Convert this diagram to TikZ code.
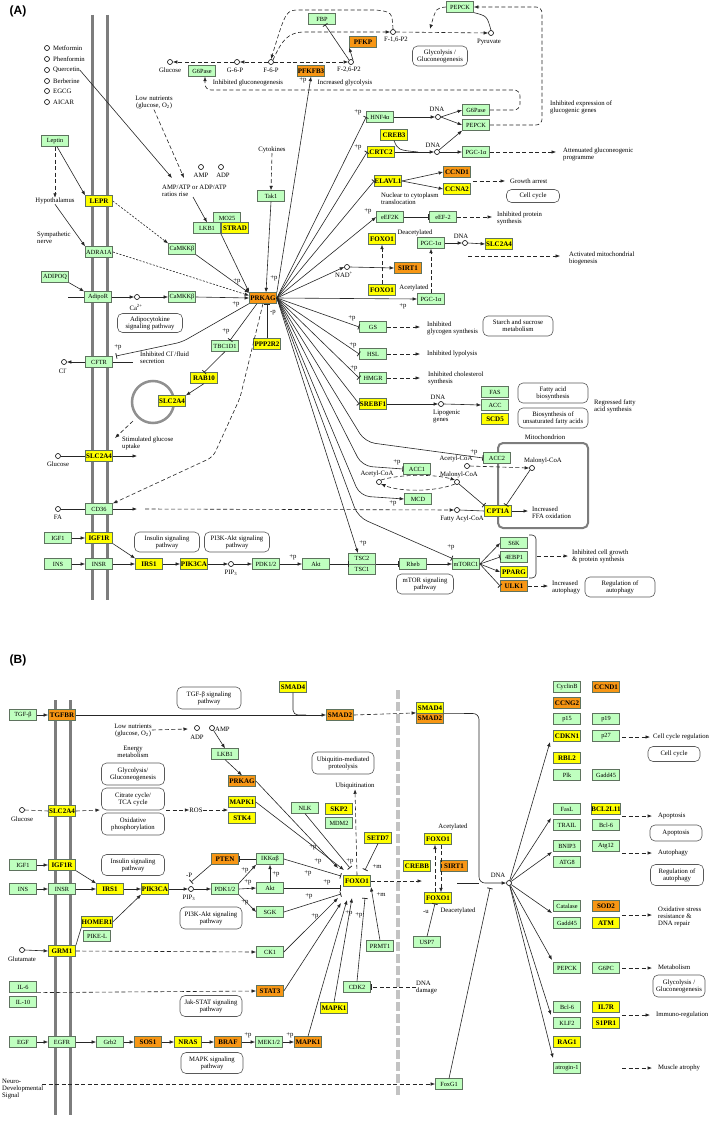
\documentclass[tikz,border=0pt]{standalone}
\usepackage{fontspec}
\setmainfont{Liberation Serif}
\newfontfamily\labfont{Liberation Sans}
\usetikzlibrary{arrows.meta}
\definecolor{kg}{RGB}{191,255,191}
\definecolor{ky}{RGB}{255,255,0}
\definecolor{ko}{RGB}{247,150,20}
\definecolor{kb}{RGB}{95,115,95}
\definecolor{memc}{RGB}{125,125,125}
\definecolor{divc}{RGB}{195,195,195}
\newcommand\plab[3]{\node[txt] (#1) at (#2) {#3};}
\tikzset{
 knode/.style={draw=kb,line width=0.7pt,minimum width=27pt,minimum height=10.5pt,inner sep=0pt},
 gnode/.style={knode,fill=kg,font=\fontsize{6.3}{6.3}\selectfont},
 ynode/.style={knode,fill=ky,font=\fontsize{7}{7}\selectfont\bfseries},
 onode/.style={knode,fill=ko,font=\fontsize{7}{7}\selectfont\bfseries},
 met/.style={circle,draw=black,fill=white,minimum size=5pt,inner sep=0pt,line width=0.6pt},
 txt/.style={font=\fontsize{6.7}{7}\selectfont,inner sep=0pt,align=center},
 txl/.style={font=\fontsize{6.7}{7}\selectfont,inner sep=0pt,align=left,anchor=west},
 pw/.style={draw=black!65,rounded corners=5pt,line width=0.6pt,font=\fontsize{6.7}{7}\selectfont,align=center,inner sep=1pt},
 ln/.style={line width=0.6pt,draw=black!85},
 arr/.style={ln,-{Latex[length=4.5pt,width=3.5pt]}},
 inh/.style={ln,-{Bar[width=5.5pt,line width=0.8pt]}},
 dsh/.style={dash pattern=on 4pt off 2.5pt},
 fdsh/.style={dash pattern=on 2pt off 1.5pt},
 darr/.style={arr,dsh},
 dln/.style={ln,dsh},
 dinh/.style={inh,dsh},
 fdarr/.style={arr,fdsh},
 memb/.style={draw=memc,line width=3pt},
 lab/.style={font=\labfont\bfseries\fontsize{12}{12}\selectfont,inner sep=0pt},
}
\begin{document}
\begin{tikzpicture}[x=1pt,y=-1pt]
\useasboundingbox (0,0) rectangle (709,1123);
\fill[white] (0,0) rectangle (709,1123);

% ================= PANEL A =================
\node[lab] (labA) at (18,11) {(A)};
\draw[memb] (92,15) -- (92,600);
\draw[memb] (107,15) -- (107,600);
\draw[draw=memc!85,line width=2.5pt] (153,402) circle [radius=21pt];
\draw[draw=memc,line width=2pt,rounded corners=5pt] (498,443) rectangle (588,528);

% drugs
\node[met] (dr1) at (47,48) {}; \node[txl] (dr1l) at (53,48) {Metformin};
\node[met] (dr2) at (47,59) {}; \node[txl] (dr2l) at (53,59) {Phenformin};
\node[met] (dr3) at (47,70) {}; \node[txl] (dr3l) at (53,70) {Quercetin};
\node[met] (dr4) at (47,81) {}; \node[txl] (dr4l) at (53,81) {Berberine};
\node[met] (dr5) at (47,91) {}; \node[txl] (dr5l) at (53,91) {EGCG};
\node[met] (dr6) at (47,102) {}; \node[txl] (dr6l) at (53,102) {AICAR};

\node[txt] (lowA) at (154,103) {Low nutrients\\(glucose, O\textsubscript{2})};
\node[met] (ampA) at (201,167) {}; \node[txt] (ampAl) at (201,175) {AMP};
\node[met] (adpA) at (221,167) {}; \node[txt] (adpAl) at (223,175) {ADP};
\node[txl] (ratio) at (162,191) {AMP/ATP or ADP/ATP\\ratios rise};

% top glycolysis
\node[met] (glcA) at (170,62) {}; \node[txt] (glcAl) at (170,70) {Glucose};
\node[gnode] (g6pa) at (202,71) {G6Pase};
\node[met] (g6p) at (237,62) {}; \node[txt] (g6pl) at (235,70) {G-6-P};
\node[met] (f6p) at (271,62) {}; \node[txt] (f6pl) at (271,70) {F-6-P};
\node[met] (f26) at (351,62) {}; \node[txt] (f26l) at (349,70) {F-2,6-P2};
\node[met] (f16) at (393,32) {}; \node[txt] (f16l) at (396,40) {F-1,6-P2};
\node[met] (pyr) at (491,33) {}; \node[txt] (pyrl) at (489,42) {Pyruvate};
\node[gnode] (fbp) at (322,19) {FBP};
\node[onode] (pfkp) at (363,42) {PFKP};
\node[onode] (pfkfb) at (311,71) {PFKFB3};
\node[gnode] (pepck1) at (460,7) {PEPCK};
\node[pw,minimum width=55pt,minimum height=20pt] (glyA) at (440,56) {Glycolysis /\\Gluconeogenesis};
\node[txt] (inhg) at (248,83) {Inhibited gluconeogenesis};
\node[txt] (incg) at (345,83) {Increased glycolysis};
\node[txl] (inhexp) at (550,107) {Inhibited expression of\\glucogenic genes};

% left receptors
\node[gnode] (leptin) at (55,141) {Leptin};
\node[txt] (hypo) at (55,201) {Hypothalamus};
\node[ynode] (lepr) at (99,201) {LEPR};
\node[txl] (symp) at (37,238) {Sympathetic\\nerve};
\node[gnode] (adra) at (99,252) {ADRA1A};
\node[gnode] (camk1) at (182,249) {CaMKKβ};
\node[gnode] (adipoq) at (55,277) {ADIPOQ};
\node[gnode] (adipor) at (98,297) {AdipoR};
\node[met] (ca) at (137,297) {}; \node[txt] (cal) at (136,307) {Ca\textsuperscript{2+}};
\node[gnode] (camk2) at (182,297) {CaMKKβ};
\node[pw,minimum width=65pt,minimum height=19pt] (adipo) at (150,323) {Adipocytokine\\signaling pathway};
\node[gnode] (cftr) at (99,362) {CFTR};
\node[met] (cl) at (64,362) {}; \node[txt] (cll) at (63,371) {Cl\textsuperscript{-}};
\node[txl] (clsec) at (140,358) {Inhibited Cl\textsuperscript{-}/fluid\\secretion};
\node[gnode] (tbc) at (225,346) {TBC1D1};
\node[ynode] (rab10) at (204,378) {RAB10};
\node[ynode] (slcin) at (172,401) {SLC2A4};
\node[txl] (stim) at (122,443) {Stimulated glucose\\uptake};
\node[ynode] (slcm) at (99,456) {SLC2A4};
\node[met] (glcA2) at (58,456) {}; \node[txt] (glcA2l) at (58,464) {Glucose};
\node[gnode] (cd36) at (99,509) {CD36};
\node[met] (fa) at (58,509) {}; \node[txt] (fal) at (58,517) {FA};

% center
\node[txt] (cyto) at (272,150) {Cytokines};
\node[gnode] (tak1) at (271,196) {Tak1};
\node[gnode] (mo25) at (227,218) {MO25};
\node[gnode] (lkb1) at (207,228) {LKB1};
\node[ynode] (strad) at (235,228) {STRAD};
\node[onode] (prkag) at (263,298) {PRKAG};
\node[ynode] (ppp) at (267,344) {PPP2R2};

% right
\node[gnode] (hnf) at (380,117) {HNF4α};
\node[met] (dna1) at (438,117) {}; \node[txt] (dna1l) at (437,109) {DNA};
\node[gnode] (g6pb) at (476,110) {G6Pase};
\node[gnode] (pepckb) at (476,125) {PEPCK};
\node[ynode] (creb) at (394,135) {CREB3};
\node[ynode] (crtc2) at (381,152) {CRTC2};
\node[met] (dna2) at (437,152) {}; \node[txt] (dna2l) at (433,145) {DNA};
\node[gnode] (pgc1) at (476,152) {PGC-1α};
\node[txl] (atten) at (563,154) {Attenuated gluconeogenic\\programme};
\node[ynode] (elavl) at (388,181) {ELAVL1};
\node[onode] (ccnd1A) at (457,172) {CCND1};
\node[ynode] (ccna2) at (457,189) {CCNA2};
\node[txl] (garr) at (510,181) {Growth arrest};
\node[pw,minimum width=53pt,minimum height=13pt] (ccA) at (533,196) {Cell cycle};
\node[txl] (nuc) at (381,199) {Nuclear to cytoplasm\\translocation};
\node[gnode] (eef2k) at (390,217) {eEF2K};
\node[gnode] (eef2) at (443,217) {eEF-2};
\node[txl] (inhps) at (497,218) {Inhibited protein\\synthesis};
\node[ynode] (foxoA1) at (382,239) {FOXO1};
\node[txt] (deac) at (415,233) {Deacetylated};
\node[gnode] (pgc2) at (431,243) {PGC-1α};
\node[met] (dna3) at (465,243) {}; \node[txt] (dna3l) at (461,236) {DNA};
\node[ynode] (slcR) at (499,244) {SLC2A4};
\node[txl] (amb) at (569,258) {Activated mitochondrial\\biogenesis};
\node[met] (nad) at (347,267) {}; \node[txt] (nadl) at (344,275) {NAD\textsuperscript{+}};
\node[onode] (sirt1A) at (408,268) {SIRT1};
\node[ynode] (foxoA2) at (382,290) {FOXO1};
\node[txt] (acet) at (414,288) {Acetylated};
\node[gnode] (pgc3) at (431,299) {PGC-1α};
\node[gnode] (gs) at (373,327) {GS};
\node[txl] (inhgs) at (427,328) {Inhibited\\glycogen synthesis};
\node[pw,minimum width=70pt,minimum height=20pt] (starch) at (518,326) {Starch and sucrose\\metabolism};
\node[gnode] (hsl) at (373,354) {HSL};
\node[txl] (inhl) at (427,354) {Inhibited lypolysis};
\node[gnode] (hmgr) at (373,378) {HMGR};
\node[txl] (inhc) at (428,378) {Inhibited cholesterol\\synthesis};
\node[ynode] (srebf) at (373,404) {SREBF1};
\node[met] (dna4) at (441,404) {}; \node[txt] (dna4l) at (438,397) {DNA};
\node[txl] (lipo) at (433,417) {Lipogenic\\genes};
\node[gnode] (fas) at (495,392) {FAS};
\node[gnode] (accA) at (495,405) {ACC};
\node[ynode] (scd5) at (495,419) {SCD5};
\node[pw,minimum width=70pt,minimum height=20pt] (fab) at (553,393) {Fatty acid\\biosynthesis};
\node[pw,minimum width=70pt,minimum height=20pt] (ufa) at (553,418) {Biosynthesis of\\unsaturated fatty acids};
\node[txl] (regfa) at (594,406) {Regressed fatty\\acid synthesis};
\node[txt] (mitol) at (545,437) {Mitochondrion};
\node[gnode] (acc2) at (497,458) {ACC2};
\node[met] (acoa2) at (467,466) {}; \node[txt] (acoa2l) at (456,459) {Acetyl-CoA};
\node[met] (mal2) at (532,468) {}; \node[txt] (mal2l) at (543,461) {Malonyl-CoA};
\node[gnode] (acc1) at (417,469) {ACC1};
\node[met] (acoa1) at (379,482) {}; \node[txt] (acoa1l) at (377,474) {Acetyl-CoA};
\node[met] (mal1) at (457,482) {}; \node[txt] (mal1l) at (459,474.5) {Malonyl-CoA};
\node[gnode] (mcd) at (418,499) {MCD};
\node[met] (facoa) at (457,510) {}; \node[txt] (facoal) at (462,519) {Fatty Acyl-CoA};
\node[ynode] (cpt1a) at (498,511) {CPT1A};
\node[txl] (ffa) at (532,513) {Increased\\FFA oxidation};

% bottom row A
\node[gnode] (igf1A) at (58,538) {IGF1}; \node[ynode] (igf1rA) at (99,538) {IGF1R};
\node[gnode] (insA) at (58,564) {INS}; \node[gnode] (insrA) at (99,564) {INSR};
\node[ynode] (irs1A) at (149,564) {IRS1}; \node[ynode] (pik3A) at (194,564) {PIK3CA};
\node[met] (pip3A) at (231,564) {}; \node[txt] (pip3Al) at (231,573) {PIP\textsubscript{3}};
\node[gnode] (pdkA) at (266,564) {PDK1/2}; \node[gnode] (aktA) at (316,564) {Akt};
\node[gnode] (tsc2) at (362,558.75) {TSC2}; \node[gnode] (tsc1) at (362,569.25) {TSC1};
\node[gnode] (rheb) at (413,564) {Rheb}; \node[gnode] (mtorc1) at (466,564) {mTORC1};
\node[pw,minimum width=65pt,minimum height=20pt] (insPA) at (167,542) {Insulin signaling\\pathway};
\node[pw,minimum width=65pt,minimum height=20pt] (pi3kPA) at (237,542) {PI3K-Akt signaling\\pathway};
\node[pw,minimum width=57pt,minimum height=20pt] (mtorP) at (425,584) {mTOR signaling\\pathway};
\node[gnode] (s6k) at (514,543) {S6K}; \node[gnode] (ebp) at (514,557) {4EBP1};
\node[ynode] (pparg) at (514,572) {PPARG}; \node[onode] (ulk1) at (514,586) {ULK1};
\node[txl] (cellg) at (572,556) {Inhibited cell growth\\\& protein synthesis};
\node[txl] (autoA) at (552,587) {Increased\\autophagy};
\node[pw,minimum width=70pt,minimum height=20pt] (regA) at (620,587) {Regulation of\\autophagy};

% +p labels A
\plab{pa1}{237,281}{+p} \plab{pa2}{274,278}{+p} \plab{pa3}{236,304}{+p}
\plab{pa4}{273,313}{-p} \plab{pa5}{226,331}{+p} \plab{pa6}{118,347}{+p}
\plab{pa7}{303,80}{+p} \plab{pa8}{358,112}{+p} \plab{pa9}{358,147}{+p}
\plab{pa10}{368,211}{+p} \plab{pa11}{403,306}{+p} \plab{pa12}{352,318}{+p}
\plab{pa13}{353,345}{+p} \plab{pa14}{354,368}{+p} \plab{pa15}{474,452}{+p}
\plab{pa16}{397,462}{+p} \plab{pa17}{393,503}{+p} \plab{pa18}{363,543}{+p}
\plab{pa19}{451,547}{+p} \plab{pa20}{293,557}{+p}

% coordinates A
\coordinate (rq) at (172,178); \coordinate (rl) at (184,178); \coordinate (ra) at (193,197);
\coordinate (adl) at (68,297); \coordinate (cft1) at (182,342); \coordinate (cft2) at (116,356);
\coordinate (cftrR) at (133,362); \coordinate (sg1) at (133,421); \coordinate (sg2) at (115,438);
\coordinate (slcmR) at (137,456); \coordinate (cd36R) at (137,509); \coordinate (fa2) at (145,509);
\coordinate (ccd1) at (240,398); \coordinate (ccd2) at (213,457);
\coordinate (cptR) at (528,511);
\coordinate (cacc2) at (365,442); \coordinate (cacc1) at (362,466); \coordinate (cmcd) at (360,496); \coordinate (cmt) at (358,517);
\coordinate (cf1) at (305,32); \coordinate (cf2) at (376,10); \coordinate (cf3) at (300,10);
\coordinate (cpk) at (430,29);
\coordinate (cg1) at (520,110); \coordinate (cg2) at (520,90); \coordinate (cg3) at (205,90);
\coordinate (cp1) at (542,125); \coordinate (cp2) at (542,7);
\coordinate (ccr) at (418,152); \coordinate (catt) at (556,152);
\coordinate (cga0) at (473,181); \coordinate (cga1) at (505,181);
\coordinate (cip) at (492,217); \coordinate (cam0) at (468,256); \coordinate (cam1) at (560,256);
\coordinate (cgs) at (420,327); \coordinate (chsl) at (420,354); \coordinate (chm) at (420,378);
\coordinate (ctl) at (348.5,564); \coordinate (ctr) at (375.5,564);
\coordinate (cbr) at (537,556); \coordinate (cbr2) at (568,556); \coordinate (cul) at (548,586);

% edges A
\draw[arr] (dr3l.east) -- (rq);
\draw[darr] (lowA.south) -- (rl);
\draw[arr] (ra) -- (lkb1.north);
\draw[arr] ([xshift=2pt]leptin.south) -- (lepr.north west);
\draw[darr] (leptin.south) -- (hypo.north);
\draw[arr] (hypo.south) -- (adra.north west);
\draw[fdarr] (lepr.east) -- (camk1.north west);
\draw[fdarr] (adra.east) -- (prkag.170);
\draw[arr] (adipoq.south east) -- (adipor.north west);
\draw[ln] (adl) -- (adipor.west);
\draw[arr] (adipor.east) -- (ca.west);
\draw[arr] (ca.east) -- (camk2.west);
\draw[arr] (camk2.east) -- (prkag.west);
\draw[arr] (camk1.south east) -- (prkag.160);
\draw[arr] (lkb1.south east) -- (prkag.north west);
\draw[darr] (cyto.south) -- (tak1.north);
\draw[arr] (tak1.south) -- ([xshift=3pt]prkag.north);
\draw[inh] (ppp.north) -- ([xshift=4pt]prkag.south);
\draw[inh,rounded corners=6pt] (prkag.south west) -- (cft1) -- (cft2);
\draw[inh] ([xshift=-6pt]prkag.south) -- ([xshift=5pt]tbc.north);
\draw[inh] (tbc.south) -- (rab10.north);
\draw[arr] (rab10.south) -- (slcin.north east);
\draw[darr] (sg1) -- (sg2);
\draw[arr] (cftr.west) -- (cl.east);
\draw[ln] (cftr.east) -- (cftrR);
\draw[ln] (glcA2.east) -- (slcm.west);
\draw[arr] (slcm.east) -- (slcmR);
\draw[ln] (fa.east) -- (cd36.west);
\draw[arr] (cd36.east) -- (cd36R);
\draw[darr,rounded corners=6pt] (prkag.south) -- (ccd1) -- (ccd2) -- (cd36.north east);
\draw[darr] (fa2) -- (facoa.west);
\draw[ln] (facoa.east) -- (cpt1a.west);
\draw[arr] (cpt1a.east) -- (cptR);
\draw[inh] (mal2.south west) -- ([xshift=8pt]cpt1a.north);
\draw[darr] (acoa2.east) -- (mal2.west);
\draw[inh,rounded corners=10pt] (prkag.east) -- (cacc2) -- (acc2.west);
\draw[inh,rounded corners=10pt] (prkag.east) -- (cacc1) -- (acc1.west);
\draw[arr,rounded corners=10pt] (prkag.east) -- (cmcd) -- (mcd.west);
\draw[arr] (prkag.east) -- ([xshift=-4pt]tsc2.north);
\draw[inh,rounded corners=10pt] (prkag.east) -- (cmt) -- (mtorc1.north west);
\draw[darr] (acoa1.north east) .. controls (400,474) and (435,474) .. (mal1.north west);
\draw[darr] (mal1.south west) .. controls (435,492) and (400,492) .. (acoa1.south east);
\draw[inh] (mal1.south east) -- (cpt1a.north west);
% fan right
\draw[arr] (prkag.north east) -- (pfkfb.south);
\draw[inh] (prkag.east) -- (hnf.west);
\draw[inh] (prkag.east) -- (crtc2.west);
\draw[inh] (prkag.east) -- (elavl.west);
\draw[arr] (prkag.east) -- (eef2k.west);
\draw[arr] (prkag.east) -- (nad.west);
\draw[arr] (prkag.east) -- (pgc3.west);
\draw[inh] (prkag.east) -- (gs.west);
\draw[inh] (prkag.east) -- (hsl.west);
\draw[inh] (prkag.east) -- (hmgr.west);
\draw[inh] (prkag.east) -- (srebf.west);
% top
\draw[darr] (g6p.west) -- (glcA.east);
\draw[darr] (f6p.west) -- (g6p.east);
\draw[darr] (f6p.east) -- (f26.west);
\draw[darr] (f6p.north east) .. controls (282,40) and (288,32) .. (cf1) -- (f16.west);
\draw[darr] (f16.north) .. controls (392,12) .. (cf2) -- (cf3) .. controls (286,10) .. (f6p.north);
\draw[inh] (f26.north west) -- ([xshift=3pt]fbp.south);
\draw[arr] (f26.north east) -- (pfkp.south west);
\draw[darr] (f16.east) -- (pyr.west);
\draw[ln] (pyr.north) .. controls (487,16) .. (pepck1.south east);
\draw[darr] (pepck1.west) .. controls (436,8) .. (cpk);
\draw[darr,rounded corners=6pt] (g6pb.east) -- (cg1) -- (cg2) -- (cg3) -- ([xshift=3pt]g6pa.south);
\draw[darr,rounded corners=6pt] (pepckb.east) -- (cp1) -- (cp2) -- (pepck1.east);
\draw[arr] (hnf.east) -- (dna1.west);
\draw[arr] (dna1.east) -- (g6pb.west);
\draw[arr] (dna1.east) -- (pepckb.west);
\draw[arr] (crtc2.east) -- (dna2.west);
\draw[ln] (creb.south) .. controls (398,150) .. (ccr);
\draw[arr] (dna2.north east) -- (pepckb.south west);
\draw[arr] (dna2.east) -- (pgc1.west);
\draw[darr] (pgc1.east) -- (catt);
\draw[arr] (elavl.east) -- (ccnd1A.west);
\draw[arr] (elavl.east) -- (ccna2.west);
\draw[darr] (cga0) -- (cga1);
\draw[inh] (eef2k.east) -- (eef2.west);
\draw[darr] (eef2.east) -- (cip);
\draw[arr] (nad.east) -- (sirt1A.west);
\draw[darr] (foxoA2.north) -- (foxoA1.south);
\draw[arr] (pgc2.east) -- (dna3.west);
\draw[arr] (dna3.east) -- (slcR.west);
\draw[darr] (pgc3.north) -- (pgc2.south);
\draw[darr] (cam0) -- (cam1);
\draw[darr] (gs.east) -- (cgs);
\draw[darr] (hsl.east) -- (chsl);
\draw[darr] (hmgr.east) -- (chm);
\draw[arr] (srebf.east) -- (dna4.west);
\draw[arr] (dna4.east) -- (accA.west);
% bottom A
\draw[arr] (igf1A.east) -- (igf1rA.west);
\draw[arr] (insA.east) -- (insrA.west);
\draw[arr] (igf1rA.south east) -- (irs1A.north west);
\draw[arr] (insrA.east) -- (irs1A.west);
\draw[arr] (irs1A.east) -- (pik3A.west);
\draw[arr] (pik3A.east) -- (pip3A.west);
\draw[arr] (pip3A.east) -- (pdkA.west);
\draw[arr] (pdkA.east) -- (aktA.west);
\draw[inh] (aktA.east) -- (ctl);
\draw[inh] (ctr) -- (rheb.west);
\draw[arr] (rheb.east) -- (mtorc1.west);
\draw[arr] (mtorc1.east) -- (s6k.west);
\draw[inh] (mtorc1.east) -- (ebp.west);
\draw[arr] (mtorc1.east) -- (pparg.west);
\draw[inh] (mtorc1.east) -- (ulk1.west);
\draw[ln,rounded corners=4pt] (529,535) -- (536,535) -- (536,578) -- (529,578);
\draw[darr] (cbr) -- (cbr2);
\draw[darr] (ulk1.east) -- (cul);

% ================= PANEL B =================
\node[lab] (labB) at (18,660) {(B)};
\draw[memb] (55,700) -- (55,1115);
\draw[memb] (70,700) -- (70,1115);
\draw[draw=divc,line width=4pt,dash pattern=on 9pt off 3pt] (398,690) -- (398,1097);

\node[gnode] (tgfb) at (23,715) {TGF-β};
\node[onode] (tgfbr) at (62,715) {TGFBR};
\node[pw,minimum width=64pt,minimum height=22pt] (tgfP) at (209,698) {TGF-β signaling\\pathway};
\node[ynode] (smad4a) at (293,687) {SMAD4};
\node[onode] (smad2a) at (340,715) {SMAD2};
\node[ynode] (smad4b) at (430,708) {SMAD4};
\node[onode] (smad2b) at (430,718.5) {SMAD2};
\node[txt] (lowB) at (133,730) {Low nutrients\\(glucose, O\textsubscript{2})};
\node[met] (adpB) at (197,728) {}; \node[txt] (adpBl) at (197,737) {ADP};
\node[met] (ampB) at (212,728) {}; \node[txl] (ampBl) at (215,729) {AMP};
\node[gnode] (lkb1B) at (225,754) {LKB1};
\node[onode] (prkagB) at (242,781) {PRKAG};
\node[txt] (energy) at (133,752) {Energy\\metabolism};
\node[pw,minimum width=63pt,minimum height=22pt] (glyB) at (133,774) {Glycolysis/\\Gluconeogenesis};
\node[pw,minimum width=63pt,minimum height=22pt] (tca) at (133,799) {Citrate cycle/\\TCA cycle};
\node[pw,minimum width=63pt,minimum height=22pt] (oxp) at (133,824) {Oxidative\\phosphorylation};
\node[met] (glcB) at (22,810) {}; \node[txt] (glcBl) at (22,819) {Glucose};
\node[ynode] (slcB) at (62,811) {SLC2A4};
\node[txt] (ros) at (196,810) {ROS};
\node[ynode] (mapk1a) at (242,802) {MAPK1};
\node[ynode] (stk4) at (242,818) {STK4};
\node[gnode] (igf1B) at (23,865) {IGF1}; \node[ynode] (igf1rB) at (62,865) {IGF1R};
\node[pw,minimum width=63pt,minimum height=21pt] (insPB) at (133,865) {Insulin signaling\\pathway};
\node[gnode] (insB) at (23,889) {INS}; \node[gnode] (insrB) at (62,889) {INSR};
\node[ynode] (irs1B) at (110,889) {IRS1}; \node[ynode] (pik3B) at (155,889) {PIK3CA};
\node[met] (pip3B) at (191,889) {}; \node[txt] (pip3Bl) at (189,898) {PIP\textsubscript{3}};
\node[txt] (mP) at (189,875) {-P};
\node[gnode] (pdkB) at (225,889) {PDK1/2};
\node[onode] (pten) at (225,859) {PTEN};
\node[pw,minimum width=62pt,minimum height=22pt] (pi3kPB) at (211,918) {PI3K-Akt signaling\\pathway};
\node[gnode] (ikk) at (270,859) {IKKαβ};
\node[gnode] (aktB) at (270,888) {Akt};
\node[gnode] (sgk) at (270,912) {SGK};
\node[ynode] (homer) at (97,922) {HOMER1};
\node[gnode] (pikel) at (97,936) {PIKE-L};
\node[met] (glut) at (22,950) {}; \node[txt] (glutl) at (22,959) {Glutamate};
\node[ynode] (grm1) at (62,951) {GRM1};
\node[gnode] (ck1) at (270,952) {CK1};
\node[gnode] (il6) at (23,987) {IL-6}; \node[gnode] (il10) at (23,1002) {IL-10};
\node[onode] (stat3) at (270,991) {STAT3};
\node[pw,minimum width=62pt,minimum height=21pt] (jak) at (211,1006) {Jak-STAT signaling\\pathway};
\node[gnode] (egf) at (23,1042) {EGF}; \node[gnode] (egfr) at (62,1042) {EGFR};
\node[gnode] (grb2) at (110,1042) {Grb2}; \node[onode] (sos1) at (148,1042) {SOS1};
\node[ynode] (nras) at (188,1042) {NRAS}; \node[onode] (braf) at (228,1042) {BRAF};
\node[gnode] (mek) at (269,1042) {MEK1/2}; \node[onode] (mapk1c) at (308,1042) {MAPK1};
\node[pw,minimum width=62pt,minimum height=21pt] (mapkP) at (212,1063) {MAPK signaling\\pathway};
\node[txl] (neuro) at (2,1089) {Neuro-\\Developmental\\Signal};
\node[gnode] (foxg1) at (449,1084) {FoxG1};
\node[gnode] (nlk) at (305,808) {NLK};
\node[ynode] (skp2) at (339,809) {SKP2};
\node[gnode] (mdm2) at (339,823) {MDM2};
\node[pw,minimum width=62pt,minimum height=22pt] (ubq) at (343,763) {Ubiquitin-mediated\\proteolysis};
\node[txt] (ubqt) at (355,786) {Ubiquitination};
\node[ynode] (setd7) at (378,838) {SETD7};
\node[ynode] (foxoB) at (357,881) {FOXO1};
\node[gnode] (prmt1) at (380,946) {PRMT1};
\node[gnode] (cdk2) at (357,987) {CDK2};
\node[txl] (dnad) at (416,987) {DNA\\damage};
\node[ynode] (mapk1b) at (334,1008) {MAPK1};
\node[ynode] (crebb) at (417,866) {CREBB};
\node[onode] (sirt1B) at (454,866) {SIRT1};
\node[ynode] (foxu) at (438,839) {FOXO1};
\node[txt] (acetB) at (453,827) {Acetylated};
\node[ynode] (foxl) at (438,898) {FOXO1};
\node[txt] (deacB) at (458,911) {Deacetylated};
\node[gnode] (usp7) at (427,942) {USP7};
\node[met] (dnaB) at (509,883) {}; \node[txt] (dnaBl) at (498,875) {DNA};

% right gene columns
\node[gnode] (cyclinb) at (567,687) {CyclinB}; \node[onode] (ccnd1B) at (606,687) {CCND1};
\node[onode] (ccng2) at (567,703) {CCNG2};
\node[gnode] (p15) at (567,719) {p15}; \node[gnode] (p19) at (606,719) {p19};
\node[ynode] (cdkn1) at (567,736) {CDKN1}; \node[gnode] (p27) at (606,736) {p27};
\node[ynode] (rbl2) at (567,758) {RBL2};
\node[gnode] (plk) at (567,775) {Plk}; \node[gnode] (gadd45a) at (606,775) {Gadd45};
\node[gnode] (fasl) at (567,809) {FasL}; \node[ynode] (bcl2l11) at (606,809) {BCL2L11};
\node[gnode] (trail) at (567,825) {TRAIL}; \node[gnode] (bcl6a) at (606,825) {Bcl-6};
\node[gnode] (bnip3) at (567,846) {BNIP3}; \node[gnode] (atg12) at (606,846) {Atg12};
\node[gnode] (atg8) at (567,862) {ATG8};
\node[gnode] (catal) at (567,906) {Catalase}; \node[onode] (sod2) at (606,906) {SOD2};
\node[gnode] (gadd45b) at (567,923) {Gadd45}; \node[ynode] (atm) at (606,923) {ATM};
\node[gnode] (pepckB) at (567,968) {PEPCK}; \node[gnode] (g6pc) at (606,968) {G6PC};
\node[gnode] (bcl6b) at (567,1007) {Bcl-6}; \node[ynode] (il7r) at (606,1007) {IL7R};
\node[gnode] (klf2) at (567,1023) {KLF2}; \node[ynode] (s1pr1) at (606,1023) {S1PR1};
\node[ynode] (rag1) at (567,1042) {RAG1};
\node[gnode] (atrog) at (567,1068) {atrogin-1};

\node[txl] (ccreg) at (653,737) {Cell cycle regulation};
\node[pw,minimum width=52pt,minimum height=15pt] (ccB) at (674,754) {Cell cycle};
\node[txl] (apop) at (658,816) {Apoptosis};
\node[pw,minimum width=52pt,minimum height=16pt] (apopP) at (676,833) {Apoptosis};
\node[txl] (autoB) at (658,853) {Autophagy};
\node[pw,minimum width=53pt,minimum height=21pt] (regB) at (677,875) {Regulation of\\autophagy};
\node[txl] (oxs) at (658,917) {Oxidative stress\\resistance \&\\DNA repair};
\node[txl] (metab) at (658,967) {Metabolism};
\node[pw,minimum width=52pt,minimum height=22pt] (glyB2) at (679,986) {Glycolysis /\\Gluconeogenesis};
\node[txl] (immu) at (656,1015) {Immuno-regulation};
\node[txl] (musc) at (658,1068) {Muscle atrophy};

% +p labels B
\plab{pb1}{313,847}{+p} \plab{pb2}{318,861}{+p} \plab{pb3}{308,873}{+p}
\plab{pb4}{327,882}{+p} \plab{pb5}{309,896}{+p} \plab{pb6}{315,916}{+p}
\plab{pb7}{350,861}{+p} \plab{pb8}{377,867}{+m} \plab{pb9}{381,895}{+m}
\plab{pb10}{349,913}{+p} \plab{pb11}{359,915}{+p} \plab{pb12}{245,870}{+p}
\plab{pb13}{248,882}{+p} \plab{pb14}{245,902}{+p} \plab{pb15}{276,874}{+p}
\plab{pb16}{248,1035}{+p} \plab{pb17}{290,1035}{+p} \plab{pb18}{426,912}{-u}

% coordinates B
\coordinate (cs4) at (293,715); \coordinate (cs5) at (306,715);
\coordinate (csm1) at (479,713.5); \coordinate (csm2) at (479,883); \coordinate (cfx) at (457,883);
\coordinate (clb) at (188,729); \coordinate (csl) at (100,810); \coordinate (ctc) at (166,810); \coordinate (cmk) at (228,810);
\coordinate (cpt) at (191,882); \coordinate (cnd) at (42,1084); \coordinate (cfg) at (490,888);
\coordinate (cfo1) at (338,868); \coordinate (cfo2) at (344,870); \coordinate (cfo3) at (350,868);
\coordinate (cfo4) at (341,876); \coordinate (cfo5) at (341,888); \coordinate (cfo6) at (341,894);
\coordinate (cfo7) at (338,898); \coordinate (cfo8) at (341,903); \coordinate (cfo9) at (352,898);
\coordinate (cfo10) at (347,900); \coordinate (cfo11) at (365,898); \coordinate (cfo12) at (371,887);
\coordinate (cfo13) at (365,870); \coordinate (cfr) at (422,881);
\coordinate (cd1) at (550,742); \coordinate (cd2) at (551,818); \coordinate (cd3) at (552,852);
\coordinate (cd4) at (552,913); \coordinate (cd5) at (552,960); \coordinate (cd6) at (551,1015); \coordinate (cd7) at (553,1058);
\coordinate (co1a) at (622,737); \coordinate (co1b) at (650,737);
\coordinate (co2a) at (622,816); \coordinate (co2b) at (652,816);
\coordinate (co3a) at (622,853); \coordinate (co3b) at (652,853);
\coordinate (co4a) at (622,915); \coordinate (co4b) at (652,915);
\coordinate (co5a) at (622,968); \coordinate (co5b) at (652,968);
\coordinate (co6a) at (622,1015); \coordinate (co6b) at (650,1015);
\coordinate (co7a) at (622,1068); \coordinate (co7b) at (652,1068);

% edges B
\draw[arr] (tgfb.east) -- (tgfbr.west);
\draw[arr] (tgfbr.east) -- (smad2a.west);
\draw[ln,rounded corners=5pt] (smad4a.south) -- (cs4) -- (cs5);
\draw[darr] (smad2a.east) -- (smad2b.north west);
\draw[arr,rounded corners=6pt] (smad4b.south east) -- (csm1) -- (csm2) -- (dnaB.west);
\draw[ln] (cfx) -- (csm2);
\draw[darr] (lowB.east) -- (clb);
\draw[arr] (ampB) -- (lkb1B.north);
\draw[arr] (lkb1B.south) -- (prkagB.north);
\draw[dln] (glcB.east) -- (slcB.west);
\draw[darr] (slcB.east) -- (csl);
\draw[darr] (ctc) -- (ros.west);
\draw[darr] (ros.east) -- (cmk);
\draw[arr] (igf1B.east) -- (igf1rB.west);
\draw[arr] (insB.east) -- (insrB.west);
\draw[arr] (igf1rB.south east) -- (irs1B.north west);
\draw[arr] (insrB.east) -- (irs1B.west);
\draw[arr] (irs1B.east) -- (pik3B.west);
\draw[arr] (pik3B.east) -- (pip3B.west);
\draw[arr] (pip3B.east) -- (pdkB.west);
\draw[inh] (pten.south west) -- (cpt);
\draw[inh] (ikk.west) -- (pten.east);
\draw[arr] (pdkB.north east) -- (ikk.south west);
\draw[arr] (pdkB.east) -- (aktB.west);
\draw[arr] (pdkB.south east) -- (sgk.west);
\draw[arr] (aktB.north) -- (ikk.south);
\draw[ln] (grm1.north east) -- (homer.south west);
\draw[arr] (homer.east) -- (pik3B.south west);
\draw[arr] (glut.east) -- (grm1.west);
\draw[darr] (grm1.east) -- (ck1.west);
\draw[darr] (il6.south east) -- (stat3.west);
\draw[arr] (egf.east) -- (egfr.west);
\draw[arr] (egfr.east) -- (grb2.west);
\draw[arr] (grb2.east) -- (sos1.west);
\draw[arr] (sos1.east) -- (nras.west);
\draw[arr] (nras.east) -- (braf.west);
\draw[arr] (braf.east) -- (mek.west);
\draw[arr] (mek.east) -- (mapk1c.west);
\draw[darr] (cnd) -- (foxg1.west);
\draw[inh] (foxg1.north) -- (cfg);
\draw[arr] (prkagB.east) -- (cfo1);
\draw[arr] (mapk1a.east) -- (cfo2);
\draw[inh] (nlk.south) -- (cfo3);
\draw[inh] (ikk.east) -- (cfo4);
\draw[inh] (aktB.east) -- (cfo5);
\draw[inh] (sgk.east) -- (cfo6);
\draw[arr] (ck1.east) -- (cfo7);
\draw[arr] (stat3.east) -- (cfo8);
\draw[arr] (mapk1b.north) -- (cfo9);
\draw[arr] (mapk1c.north) -- (cfo10);
\draw[inh] (cdk2.north) -- (cfo11);
\draw[arr] (prmt1.north) -- (cfo12);
\draw[inh] (setd7.south) -- (cfo13);
\draw[dinh] (dnad.west) -- (cdk2.east);
\draw[darr] (foxoB.north) -- (ubqt.south);
\draw[darr] (foxoB.east) -- (cfr);
\draw[darr] ([xshift=-3pt]foxl.north) -- ([xshift=-3pt]foxu.south);
\draw[darr] ([xshift=3pt]foxu.south) -- ([xshift=3pt]foxl.north);
\draw[inh] (usp7.north) -- ([xshift=-3pt]foxl.south);
\draw[arr] (dnaB) -- (cd1);
\draw[arr] (dnaB) -- (cd2);
\draw[arr] (dnaB) -- (cd3);
\draw[arr] (dnaB) -- (cd4);
\draw[arr] (dnaB) -- (cd5);
\draw[arr] (dnaB) -- (cd6);
\draw[arr] (dnaB) -- (cd7);
\draw[darr] (co1a) -- (co1b);
\draw[darr] (co2a) -- (co2b);
\draw[darr] (co3a) -- (co3b);
\draw[darr] (co4a) -- (co4b);
\draw[darr] (co5a) -- (co5b);
\draw[darr] (co6a) -- (co6b);
\draw[darr] (co7a) -- (co7b);
\end{tikzpicture}
\end{document}
